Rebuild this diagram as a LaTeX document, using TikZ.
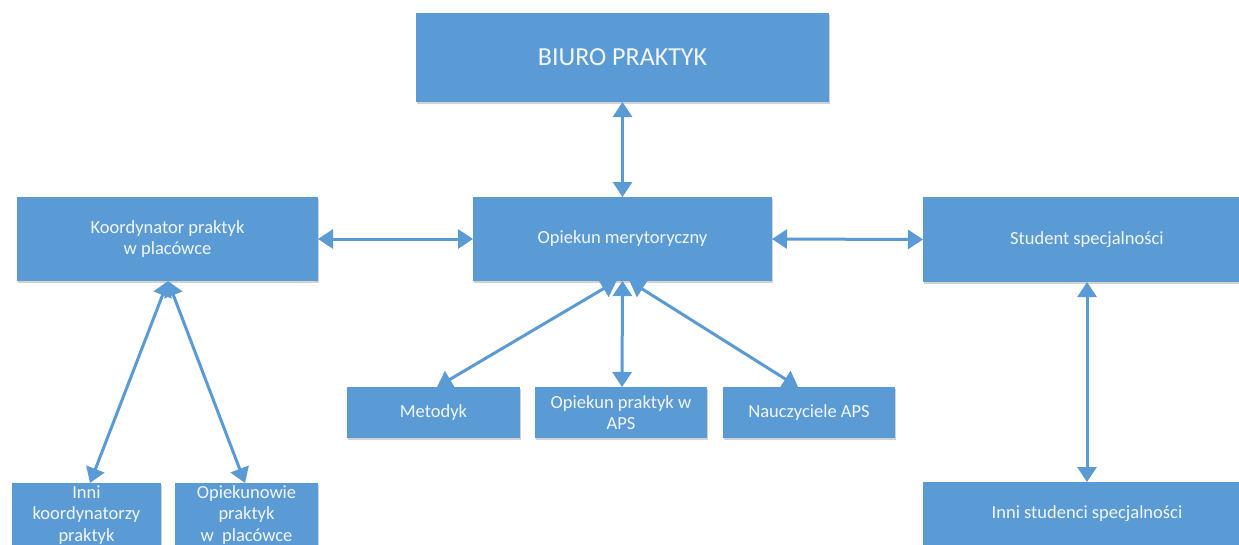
\documentclass[tikz,border=0pt]{standalone}
\usepackage{fontspec}
\setmainfont{Carlito}
\usetikzlibrary{arrows.meta,shadows}
\definecolor{boxblue}{HTML}{5B9BD5}
\definecolor{boxtext}{HTML}{F2F6FB}
\tikzset{
  box/.style={rectangle, fill=boxblue, text=boxtext, inner sep=0pt, outer sep=0pt,
    align=center, font=\fontsize{18.5}{21.5}\selectfont,
    drop shadow={shadow xshift=1.2pt, shadow yshift=-1.8pt, opacity=0.18, fill=black}},
  link/.style={draw=boxblue, line width=3pt,
    arrows={Triangle[width=19pt,length=15pt]-Triangle[width=19pt,length=15pt]}},
}
\begin{document}
\begin{tikzpicture}[x=1pt,y=-1pt]
\useasboundingbox (0,0) rectangle (1239,544);
\fill[white] (0,0) rectangle (1239,544);
\clip (0,0) rectangle (1239,544);
% boxes
\node[box, minimum width=413pt, minimum height=89pt, font=\fontsize{26}{30}\selectfont] (biuro) at (622.5,57.5) {BIURO PRAKTYK};
\node[box, minimum width=301pt, minimum height=84pt] (koord) at (167.5,239) {Koordynator praktyk\\w placówce};
\node[box, minimum width=299pt, minimum height=84pt] (om) at (622.5,239) {Opiekun merytoryczny};
\node[box, minimum width=328pt, minimum height=85pt] (stud) at (1087,239.5) {Student specjalności};
\node[box, minimum width=173pt, minimum height=51pt] (metod) at (433.5,412.5) {Metodyk};
\node[box, minimum width=172pt, minimum height=51pt] (aps) at (621,412.5) {Opiekun praktyk w\\APS};
\node[box, minimum width=172pt, minimum height=51pt] (naucz) at (809,412.5) {Nauczyciele APS};
\node[box, minimum width=149pt, minimum height=64pt] (inni) at (86.5,515) {Inni\\koordynatorzy\\praktyk};
\node[box, minimum width=143pt, minimum height=64pt] (opiek) at (246.5,515) {Opiekunowie\\praktyk\\w\ \ placówce};
\node[box, minimum width=328pt, minimum height=64pt] (innistud) at (1087,514) {Inni studenci specjalności};
% connectors
\draw[link] (biuro.south) -- (om.north);
\draw[link] (koord.east) -- (om.west);
\draw[link] (om.east) -- (stud.west);
\draw[link] ([xshift=-6pt]om.south) -- ([xshift=3.5pt]metod.north);
\draw[link] (om.south) -- ([xshift=1pt]aps.north);
\draw[link] ([xshift=7pt]om.south) -- ([xshift=-11pt]naucz.north);
\draw[link] ([xshift=0.5pt]koord.south) -- ([xshift=3.5pt]inni.north);
\draw[link] ([xshift=0.5pt]koord.south) -- ([xshift=-1.5pt]opiek.north);
\draw[link] (stud.south) -- (innistud.north);
\end{tikzpicture}
\end{document}
